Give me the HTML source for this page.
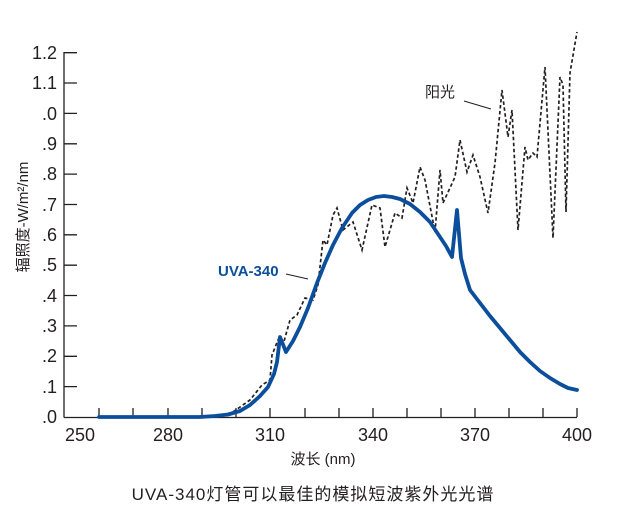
<!DOCTYPE html>
<html><head><meta charset="utf-8"><style>
html,body{margin:0;padding:0;background:#fff;}
svg{display:block;}
text{font-family:"Liberation Sans","Noto Sans CJK SC",sans-serif;fill:#231f20;}
</style></head><body>
<svg width="620" height="508" viewBox="0 0 620 508" xmlns="http://www.w3.org/2000/svg">
<g stroke="#231f20" stroke-width="1.3" fill="none">
<line x1="64" y1="52" x2="64" y2="417.5"/>
<line x1="64" y1="417.5" x2="577" y2="417.5"/>
<path d="M64 52.7H77M64 83H77M64 113.4H77M64 143.8H77M64 174.1H77M64 204.5H77M64 234.8H77M64 265.2H77M64 295.5H77M64 325.9H77M64 356.3H77M64 386.6H77"/>
<path d="M99 417V408M133 417V408M168 417V408M202 417V408M236 417V408M270 417V408M305 417V408M339 417V408M373 417V408M407 417V408M441 417V408M475 417V408M509 417V408M543 417V408M577 417V408"/>
<line x1="464" y1="101" x2="491" y2="109" stroke-width="1"/>
<line x1="286" y1="274" x2="308" y2="279" stroke-width="1"/>
</g>
<g font-size="18" text-anchor="end">
<text x="57" y="59">1.2</text><text x="57" y="89">1.1</text><text x="57" y="120">.0</text>
<text x="57" y="150">.9</text><text x="57" y="180">.8</text><text x="57" y="211">.7</text>
<text x="57" y="241">.6</text><text x="57" y="271">.5</text><text x="57" y="302">.4</text>
<text x="57" y="332">.3</text><text x="57" y="362">.2</text><text x="57" y="393">.1</text>
<text x="57" y="423">.0</text>
</g>
<g font-size="18" text-anchor="middle">
<text x="80" y="441">250</text><text x="168" y="441">280</text><text x="270" y="441">310</text>
<text x="373" y="441">340</text><text x="475" y="441">370</text><text x="577" y="441">400</text>
</g>
<text x="323" y="464" font-size="15" text-anchor="middle">波长 (nm)</text>
<text x="313" y="500" font-size="17" text-anchor="middle" letter-spacing="1">UVA-340灯管可以最佳的模拟短波紫外光光谱</text>
<text transform="translate(28,217) rotate(-90)" font-size="15" text-anchor="middle">辐照度-W/m²/nm</text>
<text x="425" y="97" font-size="15">阳光</text>
<text x="218" y="276" font-size="15" font-weight="bold" style="fill:#0b4f9c">UVA-340</text>
<path d="M233 412L250 400L262 385L270 380L272 355L278 340L283 345L290 320L297 315L305 298L313 300L318 285L323 240L327 245L333 215L337 208L343 230L353 222L362 250L372 205L380 208L385 247L395 213L402 218L407 188L413 203L420 167L425 180L435 232L440 170L443 203L455 177L460 140L467 172L473 155L480 177L488 213L495 163L502 90L508 137L512 110L518 230L525 147L528 160L533 153L537 157L545 67L553 238L560 77L563 85L566 212L570 73L577 32" fill="none" stroke="#231f20" stroke-width="1.7" stroke-dasharray="3.5,2.5"/>
<path d="M99 417L200 417L215 416L228 414.5L240 411L250 405L260 396L268 387L274 374L277 362L280 337L286 352L293 341L300 327L308 308L317 283L325 263L333 245L342 228L352 213L360 205L368 200L376 197L384 196L392 197L400 199L410 204L420 212L430 222L440 237L446 246L452 257L457 210L461 258L465 274L470 290L480 303L490 316L500 328L510 340L520 352L530 362L540 371L550 378L560 384L568 388L577 390" fill="none" stroke="#0b4f9c" stroke-width="3.8" stroke-linejoin="round" stroke-linecap="round"/>
</svg>
</body></html>
